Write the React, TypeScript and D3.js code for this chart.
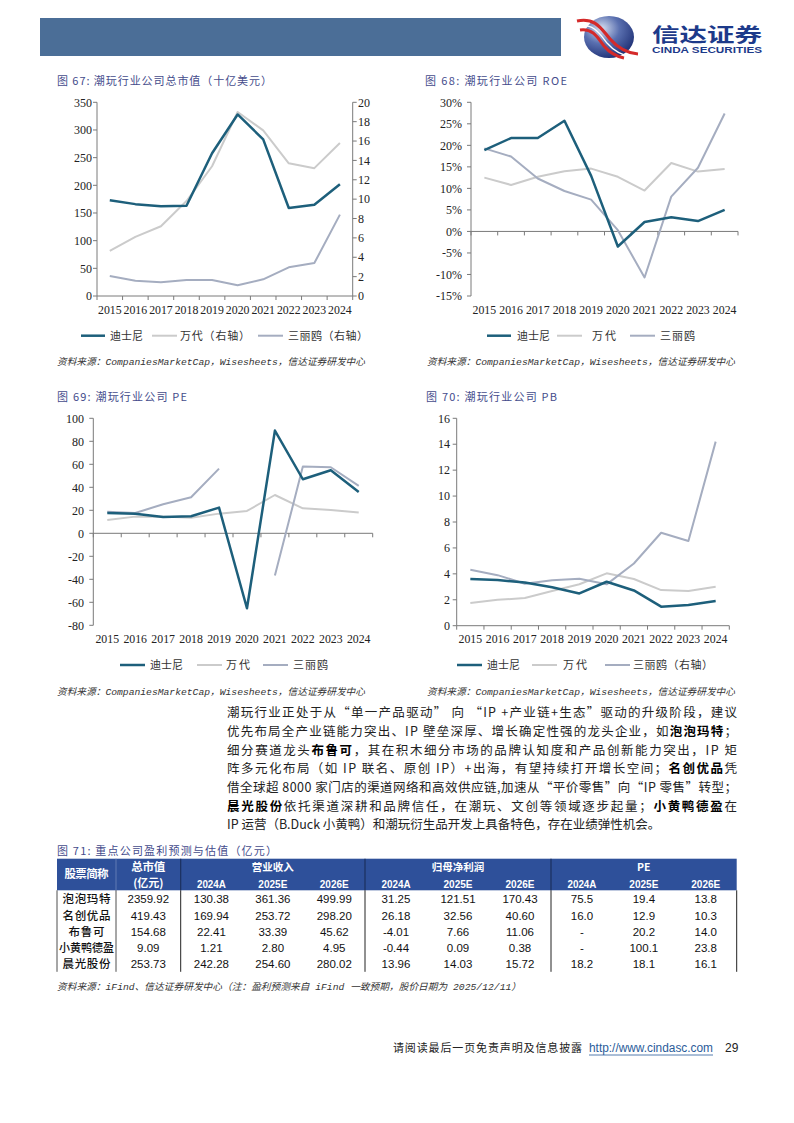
import React from "react";
import * as d3 from "d3";

// ---------- Data ----------
const years = ["2015", "2016", "2017", "2018", "2019", "2020", "2021", "2022", "2023", "2024"];

// 图67 总市值（十亿美元）
const mcapDisney = [173, 166, 162, 163, 258, 328, 283, 159, 165, 202];
const mcapBandai = [4.65, 6.1, 7.2, 9.8, 13.4, 19.0, 17.1, 13.7, 13.2, 15.8];
const mcapSanrio = [2.07, 1.58, 1.41, 1.65, 1.65, 1.1, 1.72, 2.96, 3.4, 8.4];

// 图68 ROE
const roeDisney = [0.189, 0.217, 0.217, 0.257, 0.129, -0.035, 0.022, 0.033, 0.024, 0.05];
const roeBandai = [0.125, 0.108, 0.127, 0.14, 0.146, 0.127, 0.095, 0.159, 0.139, 0.145];
const roeSanrio = [0.193, 0.174, 0.123, 0.094, 0.074, 0.003, -0.107, 0.081, 0.148, 0.274];

// 图69 PE
const peDisney = [17.7, 17.1, 14.2, 14.8, 22.3, -65.2, 89.3, 47, 54.8, 36];
const peBandai = [11.6, 14.5, 14.5, 13.6, 17.1, 19.4, 33.3, 21.7, 20.3, 18];
const peSanrio: (number | null)[] = [18.8, 17.7, 25.2, 31.3, 56.2, null, -36.8, 58, 57.4, 41.2];

// 图70 PB
const pbDisney = [3.6, 3.52, 3.34, 2.96, 2.49, 3.39, 2.72, 1.47, 1.6, 1.9];
const pbBandai = [1.75, 2.0, 2.13, 2.67, 3.2, 4.04, 3.6, 2.75, 2.67, 3.0];
const pbSanrio = [4.32, 3.9, 3.24, 3.5, 3.62, 3.19, 4.8, 7.17, 6.53, 14.2];

// 图71 table
const stockNames = ["泡泡玛特", "名创优品", "布鲁可", "小黄鸭德盈", "晨光股份"];
const marketCap = ["2359.92", "419.43", "154.68", "9.09", "253.73"];
const rev2024A = ["130.38", "169.94", "22.41", "1.21", "242.28"];
const rev2025E = ["361.36", "253.72", "33.39", "2.80", "254.60"];
const rev2026E = ["499.99", "298.20", "45.62", "4.95", "280.02"];
const np2024A = ["31.25", "26.18", "-4.01", "-0.44", "13.96"];
const np2025E = ["121.51", "32.56", "7.66", "0.09", "14.03"];
const np2026E = ["170.43", "40.60", "11.06", "0.38", "15.72"];
const pe2024A = ["75.5", "16.0", "-", "-", "18.2"];
const pe2025E = ["19.4", "12.9", "20.2", "100.1", "18.1"];
const pe2026E = ["13.8", "10.3", "14.0", "23.8", "16.1"];
const groupHeaders = ["营业收入", "归母净利润", "PE"];
const yearHeaders = ["2024A", "2025E", "2026E"];

// ---------- Styles ----------
const C_DISNEY = "#1d5f7b";
const C_BANDAI = "#cbcbcb";
const C_SANRIO = "#a5adc0";
const C_TITLE = "#454c8c";
const AXIS = "#7a7a7a";
const SERIF = "'Liberation Serif', 'Times New Roman', serif";
const CJK = "'Noto Sans CJK SC', sans-serif";
const SRC_FONT = "'Liberation Mono', 'Noto Sans CJK SC', monospace";

type Series = { values: (number | null)[]; color: string; width: number; axis?: "left" | "right" };
type Legend = { label: string; color: string; width: number; x1: number; x2: number; tx: number; tw: number };
type Cfg = {
  xL: number; xR: number; yTop: number; yBot: number;
  domain: [number, number]; step: number; fmt: (v: number) => string; labelX: number;
  rDomain?: [number, number]; rStep?: number; rLabelX?: number;
  xLabelY: number;
  series: Series[];
  legend: Legend[]; legendY: number;
  title: string; titleX: number; titleY: number; titleW: number;
  srcX: number; srcY: number;
};

function LineChart({ cfg }: { cfg: Cfg }) {
  const x = d3.scaleBand<string>().domain(years).range([cfg.xL, cfg.xR]).padding(0);
  const bw = x.bandwidth();
  const y = d3.scaleLinear().domain(cfg.domain).range([cfg.yBot, cfg.yTop]);
  const yR = cfg.rDomain ? d3.scaleLinear().domain(cfg.rDomain).range([cfg.yBot, cfg.yTop]) : null;
  const ticks = d3.range(cfg.domain[0], cfg.domain[1] + cfg.step / 2, cfg.step);
  const rTicks = cfg.rDomain ? d3.range(cfg.rDomain[0], cfg.rDomain[1] + (cfg.rStep as number) / 2, cfg.rStep as number) : [];
  const baseY = y(Math.max(0, cfg.domain[0]));
  const boundaries = d3.range(0, years.length + 1).map((i) => cfg.xL + i * bw);

  return (
    <g>
      <text x={cfg.titleX} y={cfg.titleY} dy="0.35em" fontFamily={CJK} fontSize={11} fill={C_TITLE} textLength={cfg.titleW} lengthAdjust="spacing">
        {cfg.title}
      </text>
      {/* left axis */}
      <line x1={cfg.xL} x2={cfg.xL} y1={cfg.yTop} y2={cfg.yBot} stroke={AXIS} strokeWidth={1} />
      {ticks.map((t) => (
        <g key={"l" + t}>
          <line x1={cfg.xL - 4} x2={cfg.xL} y1={y(t)} y2={y(t)} stroke={AXIS} />
          <text x={cfg.labelX} y={y(t)} dy="0.35em" textAnchor="end" fontFamily={SERIF} fontSize={12} fill="#222">
            {cfg.fmt(t)}
          </text>
        </g>
      ))}
      {yR && (
        <g>
          <line x1={cfg.xR} x2={cfg.xR} y1={cfg.yTop} y2={cfg.yBot} stroke={AXIS} />
          {rTicks.map((t) => (
            <g key={"r" + t}>
              <line x1={cfg.xR} x2={cfg.xR + 4} y1={yR(t)} y2={yR(t)} stroke={AXIS} />
              <text x={cfg.rLabelX} y={yR(t)} dy="0.35em" textAnchor="start" fontFamily={SERIF} fontSize={12} fill="#222">
                {t}
              </text>
            </g>
          ))}
        </g>
      )}
      {/* x axis */}
      <line x1={cfg.xL} x2={cfg.xR} y1={baseY} y2={baseY} stroke={AXIS} />
      {boundaries.map((bx, i) => (
        <line key={"b" + i} x1={bx} x2={bx} y1={baseY} y2={baseY + 4} stroke={AXIS} />
      ))}
      {years.map((yr) => (
        <text key={yr} x={(x(yr) as number) + bw / 2} y={cfg.xLabelY} dy="0.35em" textAnchor="middle" fontFamily={SERIF} fontSize={11.8} fill="#222">
          {yr}
        </text>
      ))}
      {/* series */}
      {cfg.series.map((s, si) => {
        const sc = s.axis === "right" && yR ? yR : y;
        const gen = d3
          .line<number | null>()
          .defined((d) => d != null)
          .x((_, i) => (x(years[i]) as number) + bw / 2)
          .y((d) => sc(d as number));
        return (
          <path key={si} d={gen(s.values) || ""} fill="none" stroke={s.color} strokeWidth={s.width} strokeLinejoin="round" />
        );
      })}
      {/* legend */}
      {cfg.legend.map((l, i) => (
        <g key={"lg" + i}>
          <line x1={l.x1} x2={l.x2} y1={cfg.legendY} y2={cfg.legendY} stroke={l.color} strokeWidth={l.width} />
          <text x={l.tx} y={cfg.legendY} dy="0.35em" fontFamily={CJK} fontSize={11} fill="#333" textLength={l.tw} lengthAdjust="spacing">
            {l.label}
          </text>
        </g>
      ))}
      <text x={cfg.srcX} y={cfg.srcY} dy="0.35em" fontFamily={SRC_FONT} fontSize={9.5} fontStyle="italic" fill="#333" textLength={308} lengthAdjust="spacingAndGlyphs">
        资料来源：CompaniesMarketCap，Wisesheets，信达证券研发中心
      </text>
    </g>
  );
}

const numFmt = (v: number) => `${Math.round(v)}`;
const pctFmt = (v: number) => `${Math.round(v * 100)}%`;

const chart67: Cfg = {
  xL: 97, xR: 352.7, yTop: 102.3, yBot: 296, domain: [0, 350], step: 50, fmt: numFmt, labelX: 92,
  rDomain: [0, 20], rStep: 2, rLabelX: 358, xLabelY: 310,
  series: [
    { values: mcapBandai, color: C_BANDAI, width: 2, axis: "right" },
    { values: mcapSanrio, color: C_SANRIO, width: 2, axis: "right" },
    { values: mcapDisney, color: C_DISNEY, width: 2.5, axis: "left" },
  ],
  legend: [
    { label: "迪士尼", color: C_DISNEY, width: 2.5, x1: 81, x2: 105, tx: 110, tw: 33 },
    { label: "万代（右轴）", color: C_BANDAI, width: 2, x1: 152, x2: 177, tx: 180, tw: 70 },
    { label: "三丽鸥（右轴）", color: C_SANRIO, width: 2, x1: 258, x2: 283, tx: 288, tw: 80 },
  ],
  legendY: 335.7, title: "图 67: 潮玩行业公司总市值（十亿美元）", titleX: 57, titleY: 81.5, titleW: 215, srcX: 57, srcY: 361.7,
};

const chart68: Cfg = {
  xL: 471, xR: 738, yTop: 102.3, yBot: 296, domain: [-0.15, 0.3], step: 0.05, fmt: pctFmt, labelX: 462,
  xLabelY: 310,
  series: [
    { values: roeBandai, color: C_BANDAI, width: 2 },
    { values: roeSanrio, color: C_SANRIO, width: 2 },
    { values: roeDisney, color: C_DISNEY, width: 2.5 },
  ],
  legend: [
    { label: "迪士尼", color: C_DISNEY, width: 2.5, x1: 487, x2: 511, tx: 517, tw: 33 },
    { label: "万代", color: C_BANDAI, width: 2, x1: 557, x2: 582, tx: 592, tw: 24 },
    { label: "三丽鸥", color: C_SANRIO, width: 2, x1: 630, x2: 655, tx: 660, tw: 35 },
  ],
  legendY: 335.7, title: "图 68: 潮玩行业公司 ROE", titleX: 425, titleY: 81.5, titleW: 142, srcX: 427, srcY: 361.7,
};

const chart69: Cfg = {
  xL: 93.3, xR: 372.7, yTop: 418.3, yBot: 625.3, domain: [-80, 100], step: 20, fmt: numFmt, labelX: 84,
  xLabelY: 639.3,
  series: [
    { values: peBandai, color: C_BANDAI, width: 2 },
    { values: peSanrio, color: C_SANRIO, width: 2 },
    { values: peDisney, color: C_DISNEY, width: 2.5 },
  ],
  legend: [
    { label: "迪士尼", color: C_DISNEY, width: 2.5, x1: 120, x2: 145, tx: 150, tw: 33 },
    { label: "万代", color: C_BANDAI, width: 2, x1: 197, x2: 222, tx: 226, tw: 24 },
    { label: "三丽鸥", color: C_SANRIO, width: 2, x1: 263, x2: 288, tx: 293, tw: 35 },
  ],
  legendY: 665, title: "图 69: 潮玩行业公司 PE", titleX: 57, titleY: 396.7, titleW: 130, srcX: 57, srcY: 691.7,
};

const chart70: Cfg = {
  xL: 456.7, xR: 729.3, yTop: 418.3, yBot: 625.7, domain: [0, 16], step: 2, fmt: numFmt, labelX: 450,
  xLabelY: 639.3,
  series: [
    { values: pbBandai, color: C_BANDAI, width: 2 },
    { values: pbSanrio, color: C_SANRIO, width: 2 },
    { values: pbDisney, color: C_DISNEY, width: 2.5 },
  ],
  legend: [
    { label: "迪士尼", color: C_DISNEY, width: 2.5, x1: 457, x2: 482, tx: 487, tw: 33 },
    { label: "万代", color: C_BANDAI, width: 2, x1: 532, x2: 557, tx: 563, tw: 24 },
    { label: "三丽鸥（右轴）", color: C_SANRIO, width: 2, x1: 605, x2: 630, tx: 633, tw: 80 },
  ],
  legendY: 665, title: "图 70: 潮玩行业公司 PB", titleX: 426, titleY: 396.7, titleW: 131, srcX: 427, srcY: 691.7,
};

// ---------- Paragraph ----------
type Seg = { t: string; b?: boolean };
const paraLines: { segs: Seg[]; justify: boolean }[] = [
  { segs: [{ t: "潮玩行业正处于从“单一产品驱动” 向 “IP +产业链+生态”驱动的升级阶段，建议" }], justify: true },
  { segs: [{ t: "优先布局全产业链能力突出、IP 壁垒深厚、增长确定性强的龙头企业，如" }, { t: "泡泡玛特", b: true }, { t: "；" }], justify: true },
  { segs: [{ t: "细分赛道龙头" }, { t: "布鲁可", b: true }, { t: "，其在积木细分市场的品牌认知度和产品创新能力突出，IP 矩" }], justify: true },
  { segs: [{ t: "阵多元化布局（如 IP 联名、原创 IP）+出海，有望持续打开增长空间；" }, { t: "名创优品", b: true }, { t: "凭" }], justify: true },
  { segs: [{ t: "借全球超 8000 家门店的渠道网络和高效供应链,加速从“平价零售”向“IP 零售”转型；" }], justify: true },
  { segs: [{ t: "晨光股份", b: true }, { t: "依托渠道深耕和品牌信任，在潮玩、文创等领域逐步起量；" }, { t: "小黄鸭德盈", b: true }, { t: "在" }], justify: true },
  { segs: [{ t: "IP 运营（B.Duck 小黄鸭）和潮玩衍生品开发上具备特色，存在业绩弹性机会。" }], justify: false },
];

// ---------- Table ----------
function Table() {
  const left = 57, right = 736.7, top = 858.7, headBot = 890.3, rowH = 16.3;
  const colX = [left, 116, 180.7, 365, 551, right];
  const groupStarts = [180.7, 365, 551];
  const groupEnds = [365, 551, right];
  const body = [marketCap, rev2024A, rev2025E, rev2026E, np2024A, np2025E, np2026E, pe2024A, pe2025E, pe2026E];
  const subCenters: number[] = [];
  groupStarts.forEach((gs, gi) => {
    const w = (groupEnds[gi] - gs) / 3;
    for (let k = 0; k < 3; k++) subCenters.push(gs + w * (k + 0.5));
  });
  const bodyCenters = [148.3, ...subCenters];
  return (
    <g>
      <text x={57} y={851} dy="0.35em" fontFamily={CJK} fontSize={11} fill={C_TITLE} textLength={220} lengthAdjust="spacing">
        图 71: 重点公司盈利预测与估值（亿元）
      </text>
      <rect x={left} y={top} width={right - left} height={headBot - top} fill="#2e509a" />
      <line x1={116} x2={116} y1={top} y2={headBot} stroke="#6f86bb" strokeWidth={0.8} />
      {groupStarts.map((gx) => (
        <line key={gx} x1={gx} x2={gx} y1={top} y2={headBot} stroke="#1b2f5e" strokeWidth={1.2} />
      ))}
      <text x={86.5} y={874} dy="0.35em" textAnchor="middle" fontFamily={CJK} fontSize={11.5} fontWeight={700} fill="#fff" textLength={44} lengthAdjust="spacing">
        股票简称
      </text>
      <text x={148.3} y={867} dy="0.35em" textAnchor="middle" fontFamily={CJK} fontSize={11.5} fontWeight={700} fill="#fff" textLength={34} lengthAdjust="spacing">
        总市值
      </text>
      <text x={148.3} y={883} dy="0.35em" textAnchor="middle" fontFamily={CJK} fontSize={11} fontWeight={700} fill="#fff">
        (亿元)
      </text>
      {groupHeaders.map((g, gi) => (
        <text key={g} x={(groupStarts[gi] + groupEnds[gi]) / 2} y={867.5} dy="0.35em" textAnchor="middle" fontFamily={CJK} fontSize={10.5} fontWeight={700} fill="#fff">
          {g}
        </text>
      ))}
      {subCenters.map((cx, i) => (
        <text key={"yh" + i} x={cx} y={884.5} dy="0.35em" textAnchor="middle" fontFamily="'Liberation Sans', Arial, sans-serif" fontSize={11} fontWeight={700} fill="#fff" textLength={29} lengthAdjust="spacingAndGlyphs">
          {yearHeaders[i % 3]}
        </text>
      ))}
      {colX.map((cx, i) => (
        <line key={"v" + i} x1={cx} x2={cx} y1={headBot} y2={headBot + rowH * 5} stroke="#222" strokeWidth={i <= 1 ? 0.8 : 1} />
      ))}
      {stockNames.map((n, r) => {
        const cy = headBot + rowH * (r + 0.55);
        return (
          <g key={n}>
            <text x={86.5} y={cy} dy="0.35em" textAnchor="middle" fontFamily={CJK} fontSize={11.5} fontWeight={500} fill="#111"
              {...(n.length >= 5 ? { textLength: 55, lengthAdjust: "spacingAndGlyphs" } : { textLength: n.length * 12, lengthAdjust: "spacing" })}>
              {n}
            </text>
            {body.map((col, ci) => (
              <text key={ci} x={bodyCenters[ci]} y={cy} dy="0.35em" textAnchor="middle" fontFamily="'Liberation Sans', Arial, sans-serif" fontSize={11.5} fill="#111">
                {col[r]}
              </text>
            ))}
          </g>
        );
      })}
      <text x={57} y={987} dy="0.35em" fontFamily={SRC_FONT} fontSize={9.5} fontStyle="italic" fill="#333" textLength={464} lengthAdjust="spacingAndGlyphs">
        资料来源：iFind、信达证券研发中心（注：盈利预测来自 iFind 一致预期，股价日期为 2025/12/11）
      </text>
    </g>
  );
}

function Header() {
  return (
    <g>
      <defs>
        <radialGradient id="globe" cx="0.35" cy="0.3" r="0.8">
          <stop offset="0" stopColor="#d8e0f0" />
          <stop offset="0.45" stopColor="#5a70b0" />
          <stop offset="1" stopColor="#17286e" />
        </radialGradient>
      </defs>
      <rect x={40} y={18} width={521} height={38} fill="#4b6e97" />
      <ellipse cx={609} cy={37} rx={25} ry={21} fill="url(#globe)" />
      <path d="M577,21 C596,17 602,30 610,39 C617,47 625,53 638,54" fill="none" stroke="#d42a2a" strokeWidth={3.2} />
      <path d="M578,26 C594,23 600,34 607,43 C613,50 620,55 632,57" fill="none" stroke="#fff" strokeWidth={1.3} />
      <path d="M580,30 C593,28 598,38 604,46 C609,52 614,56 624,58" fill="none" stroke="#d42a2a" strokeWidth={3} />
      <text x={652} y={42} fontFamily={CJK} fontSize={19} fontWeight={700} fill="#1d3a8a" textLength={110} lengthAdjust="spacingAndGlyphs">
        信达证券
      </text>
      <text x={652} y={53} fontFamily="'Liberation Sans', Arial, sans-serif" fontSize={9} fontWeight={700} fill="#1d3a8a" textLength={110} lengthAdjust="spacingAndGlyphs">
        CINDA SECURITIES
      </text>
    </g>
  );
}

export default function App() {
  return (
    <div style={{ position: "absolute", left: 0, top: 0 }}>
      <svg width={794} height={1123} viewBox="0 0 794 1123" style={{ display: "block", background: "#fff" }}>
        <rect width={794} height={1123} fill="#fff" />
        <Header />
        <LineChart cfg={chart67} />
        <LineChart cfg={chart68} />
        <LineChart cfg={chart69} />
        <LineChart cfg={chart70} />
        {paraLines.map((ln, i) => (
          <text
            key={i}
            x={227}
            y={713 + i * 18.67}
            dy="0.35em"
            fontFamily={CJK}
            fontSize={12.5}
            fill="#222"
            {...(ln.justify ? { textLength: 510, lengthAdjust: "spacing" } : {})}
          >
            {ln.segs.map((s, k) => (
              <tspan key={k} fontWeight={s.b ? 700 : 400} fill={s.b ? "#000" : "#222"}>
                {s.t}
              </tspan>
            ))}
          </text>
        ))}
        <Table />
        <text x={393} y={1048} dy="0.35em" fontFamily={CJK} fontSize={11} fill="#222" textLength={189} lengthAdjust="spacing">
          请阅读最后一页免责声明及信息披露
        </text>
        <text x={589} y={1048} dy="0.35em" fontFamily="'Liberation Sans', Arial, sans-serif" fontSize={12} fill="#2a5c9a" textLength={124} lengthAdjust="spacingAndGlyphs">
          http://www.cindasc.com
        </text>
        <line x1={589} x2={713} y1={1055} y2={1055} stroke="#2a5c9a" strokeWidth={0.8} />
        <text x={725} y={1048} dy="0.35em" fontFamily="'Liberation Sans', Arial, sans-serif" fontSize={12} fill="#222">
          29
        </text>
      </svg>
    </div>
  );
}
